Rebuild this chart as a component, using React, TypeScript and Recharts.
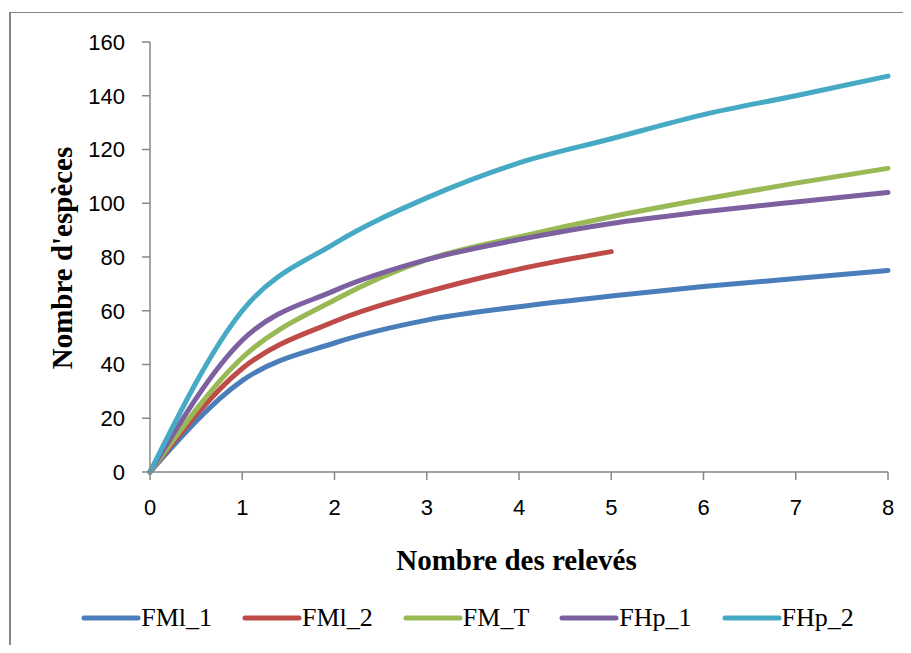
import React from "react";
import { LineChart, Line, XAxis, YAxis, Legend } from "recharts";

// ── Data ────────────────────────────────────────────────────────

const releves = [0, 1, 2, 3, 4, 5, 6, 7, 8];
const fml1 = [0, 34, 48, 56.5, 61.5, 65.5, 69, 72, 75];
const fml2 = [0, 38.5, 56, 67, 75.5, 82, null, null, null];
const fmT = [0, 42.5, 64, 79, 87.5, 95, 101.5, 107.5, 113];
const fhp1 = [0, 49, 67.5, 79, 86.5, 92.5, 96.8, 100.5, 104];
const fhp2 = [0, 60, 85, 102, 115, 124, 133, 140, 147.3];

const yTicks = [0, 20, 40, 60, 80, 100, 120, 140, 160];

const series = [
  { key: "FMl_1", values: fml1, color: "#4A7EBB" },
  { key: "FMl_2", values: fml2, color: "#BE4B48" },
  { key: "FM_T", values: fmT, color: "#98B954" },
  { key: "FHp_1", values: fhp1, color: "#7D60A0" },
  { key: "FHp_2", values: fhp2, color: "#46AAC5" },
];

const data = releves.map((x, i) => {
  const row: Record<string, number | null> = { x };
  series.forEach((s) => (row[s.key] = s.values[i]));
  return row;
});

const AXIS = "#868686";
const serif = "'Liberation Serif', 'Times New Roman', serif";
const sans = "'Liberation Sans', Arial, sans-serif";

function LegendContent() {
  return (
    <div
      style={{
        display: "flex",
        justifyContent: "center",
        alignItems: "center",
        gap: 30,
        paddingLeft: 24,
      }}
    >
      {series.map((s) => (
        <div key={s.key} style={{ display: "flex", alignItems: "center" }}>
          <svg width={60} height={10}>
            <line
              x1={3}
              y1={5}
              x2={57}
              y2={5}
              stroke={s.color}
              strokeWidth={5}
              strokeLinecap="round"
            />
          </svg>
          <span style={{ fontFamily: serif, fontSize: 26, color: "#000" }}>
            {s.key}
          </span>
        </div>
      ))}
    </div>
  );
}

export default function App() {
  return (
    <div
      style={{
        position: "relative",
        width: 911,
        height: 653,
        margin: -8,
        background: "#fff",
        overflow: "hidden",
      }}
    >
      <div
        style={{
          position: "absolute",
          left: 9,
          top: 12,
          width: 960,
          height: 700,
          borderLeft: `2px solid ${AXIS}`,
          borderTop: `1.5px solid ${AXIS}`,
        }}
      />
      <div style={{ position: "absolute", left: 0, top: 0 }}>
        <LineChart
          width={911}
          height={653}
          data={data}
          margin={{ top: 42, right: 23, left: 0, bottom: 141 }}
        >
          <XAxis
            dataKey="x"
            type="number"
            domain={[0, 8]}
            ticks={releves}
            interval={0}
            height={40}
            stroke={AXIS}
            strokeWidth={1.5}
            tickSize={8}
            tickMargin={19}
            tick={{ fill: "#000", fontSize: 22, fontFamily: sans }}
          />
          <YAxis
            type="number"
            domain={[0, 160]}
            ticks={yTicks}
            interval={0}
            width={150}
            stroke={AXIS}
            strokeWidth={1.5}
            tickSize={8}
            tickMargin={17}
            tick={{ fill: "#000", fontSize: 22, fontFamily: sans }}
          />
          <Legend
            layout="horizontal"
            verticalAlign="middle"
            align="center"
            content={<LegendContent />}
            wrapperStyle={{ top: 603, left: 0, width: 911 }}
          />
          {series.map((s) => (
            <Line
              key={s.key}
              dataKey={s.key}
              type="monotone"
              stroke={s.color}
              strokeWidth={5}
              dot={false}
              activeDot={false}
              strokeLinecap="round"
              connectNulls={false}
              isAnimationActive={false}
            />
          ))}
        </LineChart>
      </div>
      <div
        style={{
          position: "absolute",
          left: 0,
          width: 1033,
          top: 544,
          textAlign: "center",
          fontFamily: serif,
          fontWeight: "bold",
          fontSize: 29,
          color: "#000",
        }}
      >
        Nombre des relevés
      </div>
      <div
        style={{
          position: "absolute",
          left: 62,
          top: 258,
          transform: "translate(-50%, -50%) rotate(-90deg)",
          whiteSpace: "nowrap",
          fontFamily: serif,
          fontWeight: "bold",
          fontSize: 29,
          color: "#000",
        }}
      >
        Nombre d'espèces
      </div>
    </div>
  );
}
